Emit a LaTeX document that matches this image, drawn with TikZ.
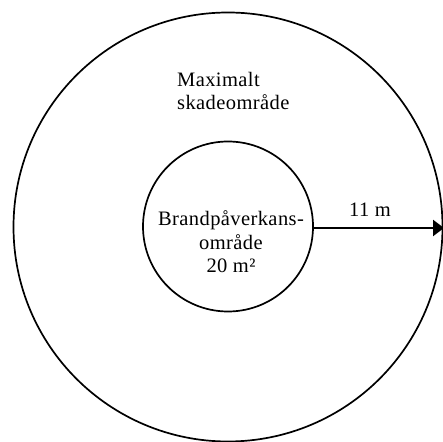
\documentclass[tikz,border=0pt]{standalone}
\usepackage{fontspec}
\setmainfont{Liberation Serif}[LetterSpace=2]
\usetikzlibrary{arrows.meta}
\begin{document}
\begin{tikzpicture}[x=1pt,y=1pt,
  ring/.style={draw=black,line width=1.7pt,circle,inner sep=0pt},
  lbl/.style={font=\fontsize{20.5}{23.5}\selectfont,inner sep=0pt,align=center}]
\useasboundingbox (0,0) rectangle (443,441);
\begin{scope}
\clip (0,0) rectangle (443,441);
\node[ring,minimum size=429pt] (outer) at (228,214) {};
\end{scope}
\node[ring,minimum size=170pt] (inner) at (228,214.5) {};
\node[lbl,align=left,anchor=base west] (max) at (177,331) {Maximalt\\skadeområde};
\node[lbl,anchor=base] (brand) at (231,168) {Brandpåverkans-\\område\\20 m²};
\node[lbl,anchor=base] (dist) at (370,224) {11 m};
\coordinate (tip) at (444,213);
\draw[line width=2.4pt,-{Triangle[length=11pt,width=16pt]}] (inner.east |- tip) -- (tip);
\end{tikzpicture}
\end{document}
